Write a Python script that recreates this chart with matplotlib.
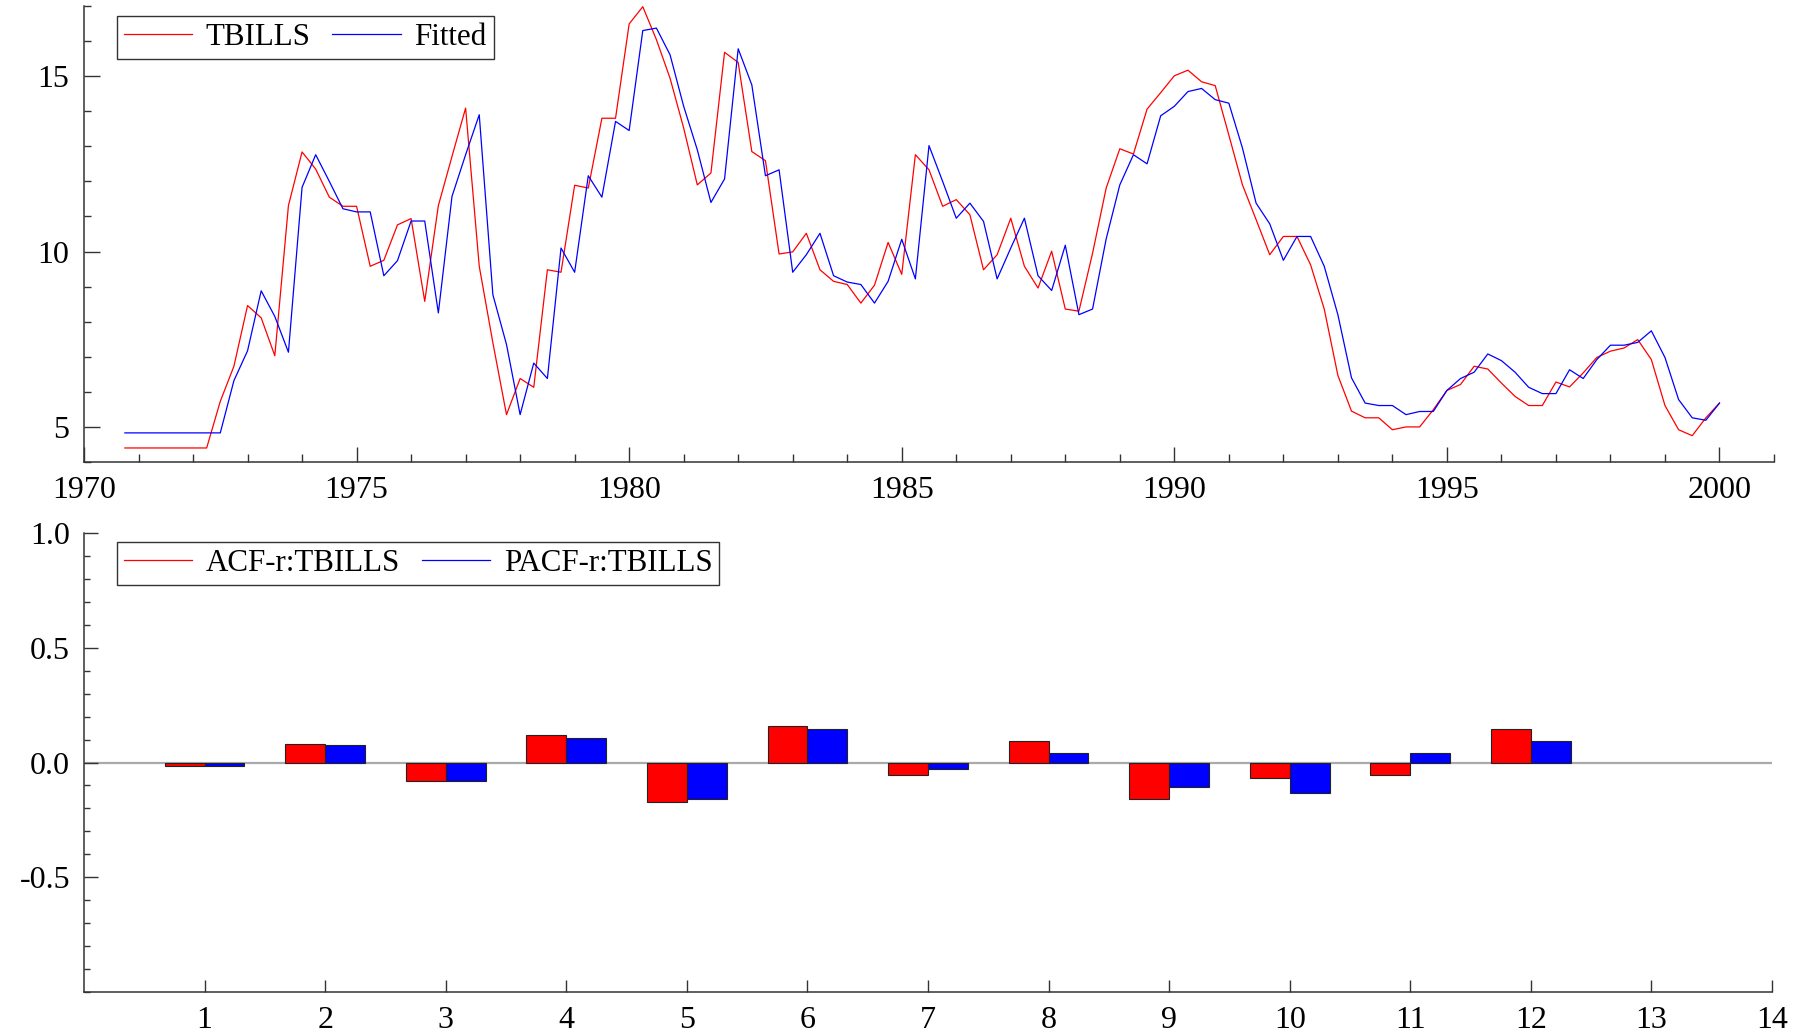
import numpy as np
import matplotlib
matplotlib.use("Agg")
import matplotlib.pyplot as plt
from matplotlib.ticker import MultipleLocator, FixedLocator

plt.rcParams['font.family'] = ['Liberation Serif', 'DejaVu Serif']
plt.rcParams['axes.unicode_minus'] = False

# quarterly T-bill rate, 1970Q4 .. 2000Q1
start = 1970.75
tbills = [4.40, 4.40, 4.40, 4.40, 4.40, 4.40, 4.40, 5.73, 6.73, 8.46,
          8.11, 7.03, 11.31, 12.84, 12.35, 11.55, 11.29, 11.29, 9.58, 9.75,
          10.76, 10.94, 8.58, 11.31, 12.71, 14.09, 9.58, 7.40, 5.35, 6.38,
          6.13, 9.48, 9.41, 11.89, 11.81, 13.80, 13.80, 16.49, 16.98, 16.04,
          14.94, 13.52, 11.90, 12.24, 15.68, 15.39, 12.85, 12.59, 9.93, 9.99,
          10.52, 9.48, 9.15, 9.06, 8.53, 9.04, 10.26, 9.35, 12.76, 12.33,
          11.29, 11.48, 11.05, 9.48, 9.91, 10.95, 9.58, 8.96, 10.01, 8.36,
          8.30, 9.95, 11.81, 12.93, 12.78, 14.06, 14.53, 15.01, 15.17, 14.84,
          14.73, 13.32, 11.90, 10.91, 9.91, 10.43, 10.43, 9.62, 8.36, 6.47,
          5.45, 5.26, 5.26, 4.92, 5.00, 5.00, 5.49, 6.04, 6.21, 6.73,
          6.65, 6.25, 5.87, 5.61, 5.61, 6.28, 6.14, 6.54, 6.98, 7.16,
          7.25, 7.49, 6.92, 5.61, 4.92, 4.75, 5.26, 5.68]
fitted = [4.83, 4.83, 4.83, 4.83, 4.83, 4.83, 4.83, 4.83, 6.32, 7.17,
          8.88, 8.15, 7.13, 11.83, 12.76, 12.00, 11.22, 11.13, 11.13, 9.31,
          9.74, 10.87, 10.87, 8.25, 11.57, 12.76, 13.90, 8.77, 7.35, 5.35,
          6.82, 6.38, 10.10, 9.41, 12.16, 11.55, 13.71, 13.45, 16.30, 16.37,
          15.61, 14.14, 12.90, 11.40, 12.07, 15.78, 14.75, 12.16, 12.33, 9.41,
          9.91, 10.52, 9.31, 9.13, 9.06, 8.53, 9.15, 10.35, 9.22, 13.02,
          12.00, 10.95, 11.38, 10.86, 9.22, 10.10, 10.95, 9.31, 8.89, 10.18,
          8.20, 8.36, 10.36, 11.90, 12.76, 12.50, 13.87, 14.14, 14.56, 14.65,
          14.33, 14.23, 12.95, 11.38, 10.79, 9.75, 10.43, 10.43, 9.58, 8.20,
          6.40, 5.68, 5.61, 5.61, 5.35, 5.44, 5.44, 6.04, 6.38, 6.56,
          7.08, 6.89, 6.56, 6.13, 5.95, 5.95, 6.63, 6.38, 6.92, 7.33,
          7.33, 7.41, 7.74, 6.98, 5.78, 5.26, 5.19, 5.68]

lags = [1, 2, 3, 4, 5, 6, 7, 8, 9, 10, 11, 12]
acf = [-0.015, 0.080, -0.081, 0.120, -0.173, 0.160, -0.055, 0.094, -0.158, -0.067, -0.055, 0.145]
pacf = [-0.015, 0.078, -0.081, 0.106, -0.158, 0.147, -0.028, 0.041, -0.106, -0.134, 0.041, 0.094]

W, H = 1807, 1034
fig = plt.figure(figsize=(W / 100, H / 100), dpi=100)

def px_axes(l, t, r, b):
    return fig.add_axes([l / W, 1 - b / H, (r - l) / W, (b - t) / H])

fs = 23      # tick labels
lfs = 22.3   # legend text
spine_c = '#333333'
leg_kw = dict(loc='upper left', bbox_transform=fig.transFigure, borderaxespad=0, ncol=2,
              fontsize=lfs, frameon=True, fancybox=False, edgecolor='black',
              handlelength=2.2, handletextpad=0.45, columnspacing=0.7, borderpad=0.22)

# ---- top panel: series and fitted
ax1 = px_axes(84, 6, 1774, 462)
dates = start + 0.25 * np.arange(len(tbills))
ax1.plot(dates, tbills, color='#ff0000', lw=0.9, label='TBILLS')
ax1.plot(dates, fitted, color='#0000ff', lw=0.9, label='Fitted')
ax1.set_xlim(1970, 2001)
ax1.set_ylim(4, 17)
ax1.xaxis.set_major_locator(MultipleLocator(5))
ax1.xaxis.set_minor_locator(MultipleLocator(1))
ax1.yaxis.set_major_locator(FixedLocator([5, 10, 15]))
ax1.yaxis.set_minor_locator(MultipleLocator(1))
ax1.tick_params(axis='x', which='major', direction='in', length=10.8, width=1, pad=10, labelsize=fs, color=spine_c)
ax1.tick_params(axis='x', which='minor', direction='in', length=5.8, width=1, color=spine_c)
ax1.tick_params(axis='y', which='major', direction='in', length=11.3, width=1, pad=11, labelsize=fs, color=spine_c)
ax1.tick_params(axis='y', which='minor', direction='in', length=4.8, width=1, color=spine_c)
leg1 = ax1.legend(bbox_to_anchor=(117 / W, 1 - 16 / H), **leg_kw)
leg1.get_frame().set_linewidth(1)

# ---- bottom panel: correlogram
ax2 = px_axes(84, 533, 1772, 992)
w = 0.33
ax2.axhline(0, color='#aaaaaa', lw=1.6, zorder=1)
ax2.bar(lags, acf, width=-w, align='edge', color='#ff0000', edgecolor='#222222', lw=0.8, zorder=2)
ax2.bar(lags, pacf, width=w, align='edge', color='#0000ff', edgecolor='#222222', lw=0.8, zorder=2)
ax2.plot([], [], color='#ff0000', lw=0.9, label='ACF-r:TBILLS')
ax2.plot([], [], color='#0000ff', lw=0.9, label='PACF-r:TBILLS')
ax2.set_xlim(0, 14)
ax2.set_ylim(-1, 1)
ax2.xaxis.set_major_locator(FixedLocator(range(1, 15)))
ax2.yaxis.set_major_locator(FixedLocator([-0.5, 0.0, 0.5, 1.0]))
ax2.yaxis.set_minor_locator(MultipleLocator(0.1))
ax2.yaxis.set_major_formatter(matplotlib.ticker.FormatStrFormatter('%.1f'))
ax2.tick_params(axis='x', which='major', direction='in', length=8.4, width=1, pad=10, labelsize=fs, color=spine_c)
ax2.tick_params(axis='y', which='major', direction='in', length=10, width=1, pad=10, labelsize=fs, color=spine_c)
ax2.tick_params(axis='y', which='minor', direction='in', length=4.3, width=1, color=spine_c)
leg2 = ax2.legend(bbox_to_anchor=(117 / W, 1 - 542 / H), **leg_kw)
leg2.get_frame().set_linewidth(1)

for ax in (ax1, ax2):
    ax.spines['top'].set_visible(False)
    ax.spines['right'].set_visible(False)
    for s in ('left', 'bottom'):
        ax.spines[s].set_color(spine_c)
        ax.spines[s].set_linewidth(1.1)

plt.savefig("out.png", dpi=100)
